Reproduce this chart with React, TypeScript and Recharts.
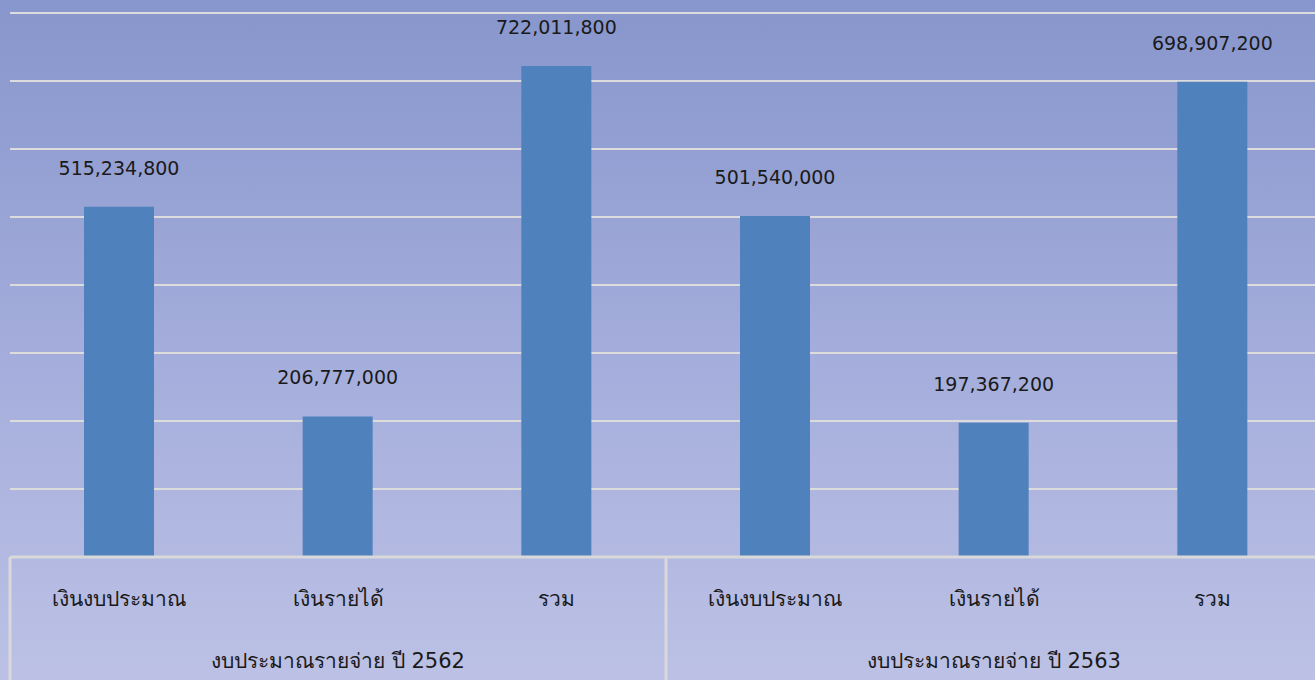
import React from "react";
import { BarChart, Bar, XAxis, YAxis, CartesianGrid, LabelList } from "recharts";

const categories = ["เงินงบประมาณ", "เงินรายได้", "รวม", "เงินงบประมาณ", "เงินรายได้", "รวม"];
const groups = ["งบประมาณรายจ่าย  ปี 2562", "งบประมาณรายจ่าย  ปี 2563"];
const values = [515234800, 206777000, 722011800, 501540000, 197367200, 698907200];
const yTicks = [0, 100000000, 200000000, 300000000, 400000000, 500000000, 600000000, 700000000, 800000000];

const data = categories.map((name, i) => ({
  name,
  group: groups[Math.floor(i / 3)],
  value: values[i],
}));

const W = 1322;
const H = 680;
const M = { top: 13, right: 0, left: 10, bottom: 0 };
const band = (W - M.left - M.right) / categories.length;
const font = "'DejaVu Sans', 'Noto Sans', sans-serif";

function CategoryTick(props: any) {
  const { x, y, index, payload } = props;
  const top = y - 8;
  const g = data[index]?.group;
  return (
    <g>
      <text x={x} y={top + 49} textAnchor="middle" fontSize={21} fill="#1a1a1a" fontFamily={font}>
        {payload.value}
      </text>
      {index % 3 === 1 && (
        <text x={x} y={top + 111} textAnchor="middle" fontSize={21} fill="#1a1a1a" fontFamily={font}>
          {g}
        </text>
      )}
      {index % 3 === 0 && (
        <line x1={x - band / 2} y1={top} x2={x - band / 2} y2={H} stroke="#d9d9d9" strokeWidth={3} />
      )}
    </g>
  );
}

export default function App() {
  return (
    <div
      style={{
        position: "absolute",
        left: 0,
        top: 0,
        width: 1315,
        height: H,
        overflow: "hidden",
        background: "linear-gradient(180deg, #8796cc 0%, #a3acdb 50%, #bcc1e5 100%)",
      }}
    >
      <BarChart width={W} height={H} data={data} margin={M}>
        <CartesianGrid vertical={false} stroke="#dcdcdc" strokeWidth={2} />
        <YAxis hide domain={[0, 800000000]} ticks={yTicks} />
        <XAxis
          dataKey="name"
          interval={0}
          tickLine={false}
          axisLine={{ stroke: "#d9d9d9", strokeWidth: 3 }}
          tick={<CategoryTick />}
          height={123}
        />
        <Bar dataKey="value" fill="#4f81bd" barSize={70} isAnimationActive={false}>
          <LabelList
            dataKey="value"
            position="top"
            offset={32}
            fontSize={19}
            fill="#1a1a1a"
            fontFamily={font}
            formatter={(v: any) => Number(v).toLocaleString("en-US")}
          />
        </Bar>
      </BarChart>
    </div>
  );
}
